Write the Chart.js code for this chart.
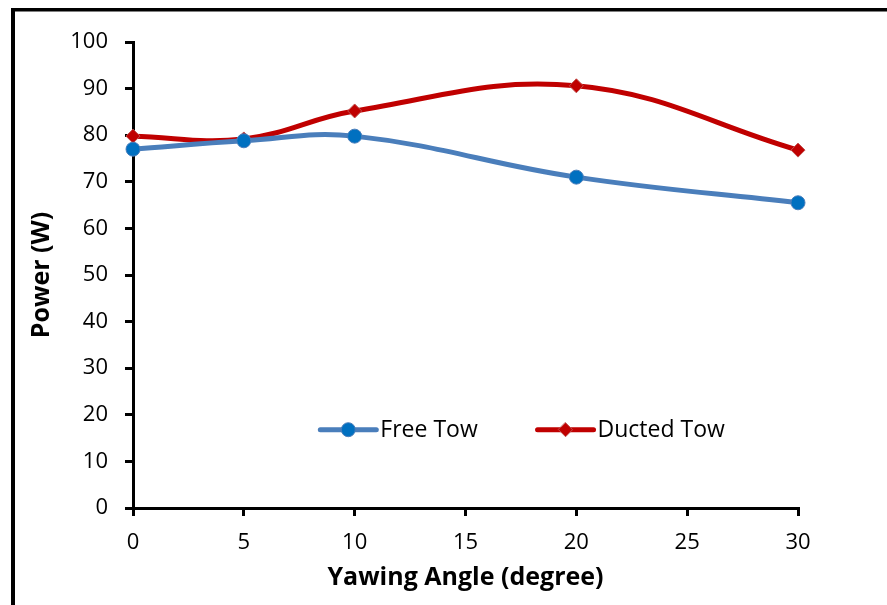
<!DOCTYPE html>
<html>
<head>
<meta charset="utf-8">
<script src="https://cdn.jsdelivr.net/npm/chart.js@4/dist/chart.umd.min.js"></script>
<style>
html,body{margin:0;padding:0;background:#fff;}
canvas{display:block;}
</style>
</head>
<body>
<canvas id="c" width="887" height="605"></canvas>
<script>
const angles = [0, 5, 10, 20, 30];
const freeTow = [77.0, 78.8, 79.8, 71.0, 65.5];
const ductedTow = [79.8, 79.2, 85.2, 90.6, 76.8];
const seriesNames = ['Free Tow', 'Ducted Tow'];
const xTickValues = [0, 5, 10, 15, 20, 25, 30];
const yTickValues = [0, 10, 20, 30, 40, 50, 60, 70, 80, 90, 100];
const xTitle = 'Yawing Angle (degree)';
const yTitle = 'Power (W)';

const FONT = "'Open Sans', 'Noto Sans', sans-serif";

const framePlugin = {
  id: 'frame',
  beforeDraw(chart) {
    const ctx = chart.ctx;
    ctx.save();
    ctx.fillStyle = '#fff';
    ctx.fillRect(0, 0, chart.width, chart.height);
    ctx.fillStyle = '#000';
    ctx.fillRect(11, 8, chart.width - 11, 3.5);
    ctx.fillRect(11, 8, 4, chart.height - 8);
    ctx.restore();
  }
};

const legendPlugin = {
  id: 'insideLegend',
  afterDraw(chart) {
    const ctx = chart.ctx;
    const y = chart.scales.y.getPixelForValue(16.8);
    const items = [
      {x0: chart.scales.x.getPixelForValue(8.45), ds: chart.data.datasets[0]},
      {x0: chart.scales.x.getPixelForValue(18.25), ds: chart.data.datasets[1]}
    ];
    ctx.save();
    items.forEach(it => {
      const ds = it.ds;
      const len = 56;
      ctx.strokeStyle = ds.borderColor;
      ctx.lineWidth = ds.borderWidth;
      ctx.lineCap = 'round';
      ctx.beginPath();
      ctx.moveTo(it.x0, y);
      ctx.lineTo(it.x0 + len, y);
      ctx.stroke();
      const cx = it.x0 + len / 2;
      ctx.fillStyle = ds.pointBackgroundColor;
      ctx.strokeStyle = ds.pointBorderColor;
      ctx.lineWidth = ds.pointBorderWidth;
      ctx.beginPath();
      if (ds.pointStyle === 'rectRot') {
        const r = ds.pointRadius;
        ctx.moveTo(cx, y - r); ctx.lineTo(cx + r, y); ctx.lineTo(cx, y + r); ctx.lineTo(cx - r, y); ctx.closePath();
      } else {
        ctx.arc(cx, y, ds.pointRadius, 0, Math.PI * 2);
      }
      ctx.fill();
      ctx.stroke();
      ctx.fillStyle = '#000';
      ctx.font = "23px " + FONT;
      ctx.textBaseline = 'middle';
      ctx.textAlign = 'left';
      ctx.fillText(ds.label, it.x0 + len + 4, y + 1);
    });
    ctx.restore();
  }
};

new Chart(document.getElementById('c'), {
  type: 'line',
  data: {
    datasets: [
      {
        label: seriesNames[0],
        data: angles.map((a, i) => ({x: a, y: freeTow[i]})),
        borderColor: '#4a7ebb',
        borderWidth: 5,
        pointStyle: 'circle',
        pointRadius: 7,
        pointBackgroundColor: '#0070c0',
        pointBorderColor: '#4a7ebb',
        pointBorderWidth: 1,
        tension: 0.4,
        clip: false
      },
      {
        label: seriesNames[1],
        data: angles.map((a, i) => ({x: a, y: ductedTow[i]})),
        borderColor: '#c00000',
        borderWidth: 5,
        pointStyle: 'rectRot',
        pointRadius: 7,
        pointBackgroundColor: '#c00000',
        pointBorderColor: '#c0504d',
        pointBorderWidth: 1,
        tension: 0.4,
        clip: false
      }
    ]
  },
  options: {
    responsive: false,
    animation: false,
    layout: {padding: {left: 0, top: 42, right: 89, bottom: 0}},
    plugins: {legend: {display: false}, tooltip: {enabled: false}},
    scales: {
      x: {
        type: 'linear',
        min: 0, max: 30,
        afterBuildTicks(s) { s.ticks = xTickValues.map(v => ({value: v})); },
        afterFit(s) { s.height = 97; },
        border: {display: true, color: '#000', width: 3},
        grid: {display: true, drawOnChartArea: false, drawTicks: true, tickLength: 8, color: '#000', lineWidth: 3},
        ticks: {color: '#000', padding: 14, font: {family: FONT, size: 22}, maxRotation: 0},
        title: {display: true, text: xTitle, color: '#000', font: {family: FONT, size: 25, weight: 'bold'}, padding: {top: 0, bottom: 12}}
      },
      y: {
        type: 'linear',
        min: 0, max: 100,
        afterBuildTicks(s) { s.ticks = yTickValues.map(v => ({value: v})); },
        afterFit(s) { s.width = 133; },
        border: {display: true, color: '#000', width: 3},
        grid: {display: true, drawOnChartArea: false, drawTicks: true, tickLength: 8, color: '#000', lineWidth: 3},
        ticks: {color: '#000', padding: 17, font: {family: FONT, size: 22}},
        title: {display: true, text: yTitle, color: '#000', font: {family: FONT, size: 25, weight: 'bold'}, padding: {top: 27, bottom: 0}}
      }
    }
  },
  plugins: [framePlugin, legendPlugin]
});
</script>
</body>
</html>
